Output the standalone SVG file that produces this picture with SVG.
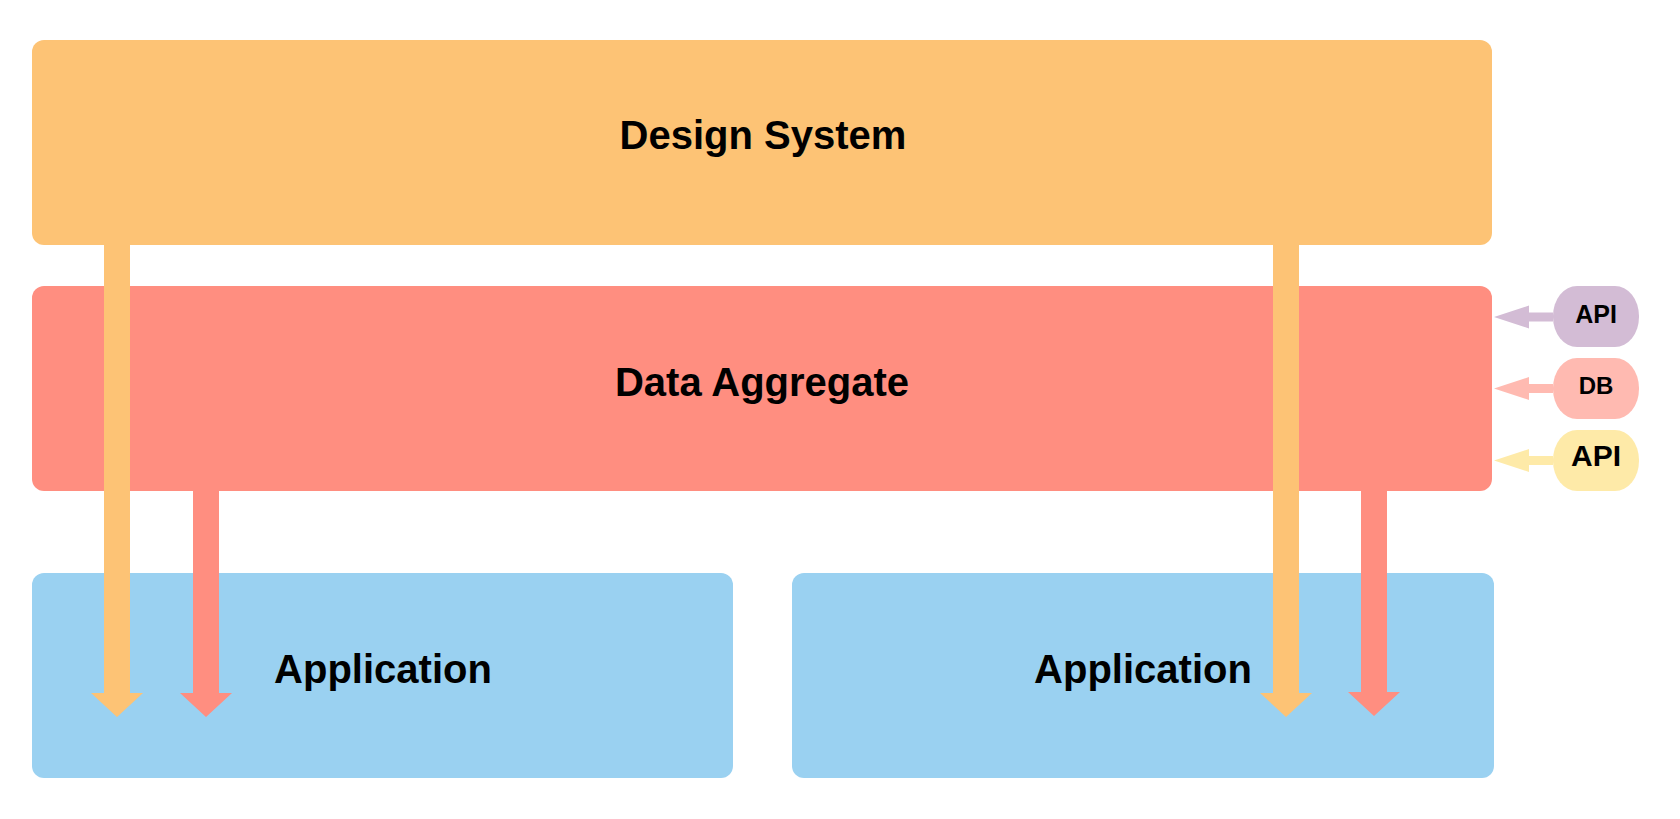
<svg xmlns="http://www.w3.org/2000/svg" width="1680" height="819" viewBox="0 0 1680 819">
<style>
.lbl{font-family:"Liberation Sans",Arial,sans-serif;font-weight:bold;fill:#000;text-anchor:middle}
.big{font-size:40px}
.orange{fill:#FDC375}
.red{fill:#FF8E80}
.blue{fill:#9AD1F1}
.purple{fill:#D3BCD5}
.pink{fill:#FFBAB1}
.yellow{fill:#FEEAA8}
</style>
<rect width="1680" height="819" fill="#fff"/>
<g id="app1"><rect class="blue" x="32" y="573" width="701" height="205" rx="12"/><text class="lbl big" x="383" y="683">Application</text></g>
<g id="app2"><rect class="blue" x="792" y="573" width="702" height="205" rx="12"/><text class="lbl big" x="1143" y="683">Application</text></g>
<g id="design-system"><rect class="orange" x="32" y="40" width="1460" height="205" rx="12"/><text class="lbl big" x="763" y="149">Design System</text></g>
<g id="data-aggregate"><rect class="red" x="32" y="286" width="1460" height="205" rx="12"/><text class="lbl big" x="762" y="396">Data Aggregate</text></g>
<g id="api1"><rect class="purple" x="1553" y="286" width="86" height="61" rx="24" ry="30"/><text class="lbl" style="font-size:25px" x="1596" y="323">API</text></g>
<g id="db"><rect class="pink" x="1553" y="358" width="86" height="61" rx="24" ry="30"/><text class="lbl" style="font-size:24px" x="1596" y="394">DB</text></g>
<g id="api2"><rect class="yellow" x="1553" y="430" width="86" height="61" rx="24" ry="30"/><text class="lbl" style="font-size:30px" x="1596" y="466">API</text></g>
<g id="connectors">
<polygon class="orange" points="104,244 130,244 130,693 143,693 117,717 91,693 104,693"/>
<polygon class="red" points="193,491 219,491 219,693 232,693 206,717 180,693 193,693"/>
<polygon class="orange" points="1273,244 1299,244 1299,693 1312,693 1286,717 1260,693 1273,693"/>
<polygon class="red" points="1361,491 1387,491 1387,692 1400,692 1374,716 1348,692 1361,692"/>
<polygon class="purple" points="1553,312.5 1529,312.5 1529,305.5 1494,317 1529,328.5 1529,321.5 1553,321.5"/>
<polygon class="pink" points="1553,384 1529,384 1529,377 1494,388.5 1529,400 1529,393 1553,393"/>
<polygon class="yellow" points="1553,456 1529,456 1529,449 1494,460.5 1529,472 1529,465 1553,465"/>
</g>
</svg>
